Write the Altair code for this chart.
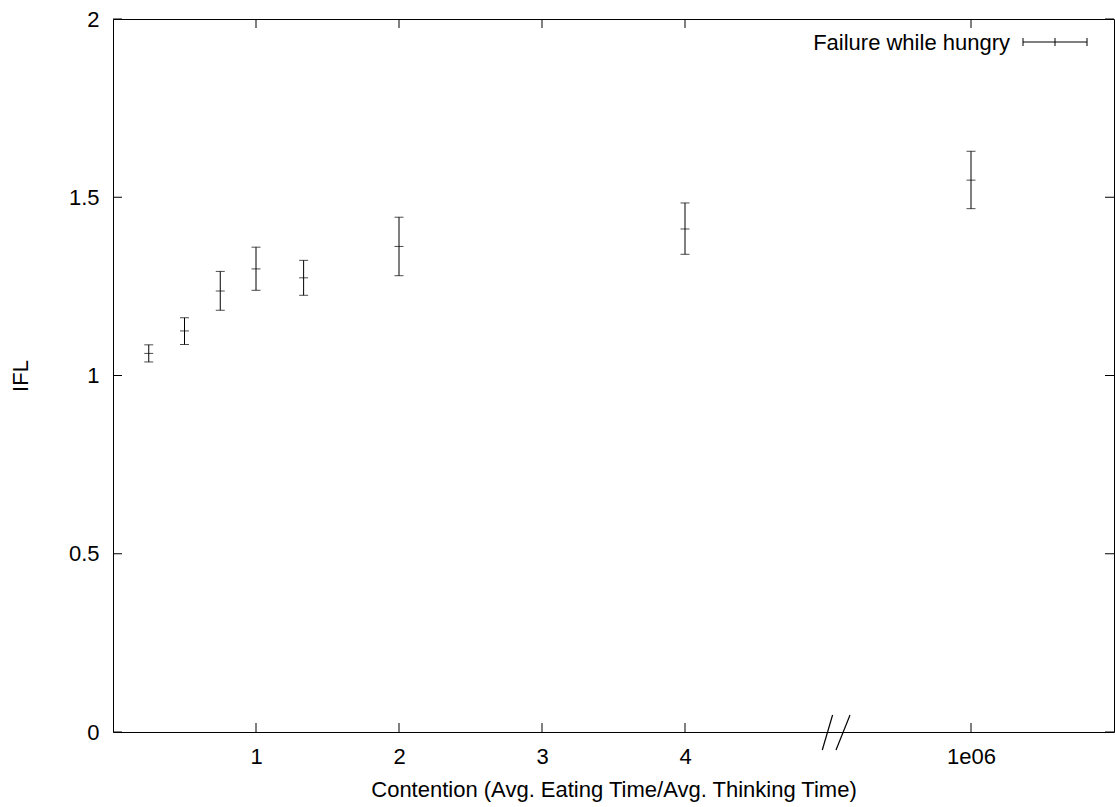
import altair as alt
import pandas as pd

# ---- data ----
# contention values; the last point (1e06) sits after an axis break at position 6
x_positions = [0.25, 0.5, 0.75, 1.0, 1.333, 2.0, 4.0, 6.0]
ifl_mean = [1.062, 1.125, 1.237, 1.299, 1.274, 1.362, 1.411, 1.548]
ifl_low = [1.038, 1.087, 1.183, 1.239, 1.225, 1.280, 1.340, 1.468]
ifl_high = [1.086, 1.162, 1.292, 1.360, 1.323, 1.444, 1.484, 1.629]

x_tick_values = [1, 2, 3, 4, 6]
x_tick_labels = ["1", "2", "3", "4", "1e06"]
y_tick_values = [0, 0.5, 1, 1.5, 2]
series_label = "Failure while hungry"
x_title = "Contention (Avg. Eating Time/Avg. Thinking Time)"
y_title = "IFL"

# axis break marks (two slashes near x = 5)
break_x1 = [4.96, 5.056]
break_x2 = [5.032, 5.154]

W, H = 1001, 713
FONT = "Liberation Sans"
FS = 22
TICK = 9

df = pd.DataFrame({"x": x_positions, "y": ifl_mean, "lo": ifl_low, "hi": ifl_high})

xscale = alt.Scale(domain=[0, 7], nice=False, zero=False)
yscale = alt.Scale(domain=[0, 2], nice=False, zero=False)

# map tick value -> label text from the list above
pairs = " : ".join(
    f"datum.value == {v} ? '{l}'" for v, l in zip(x_tick_values, x_tick_labels))
label_expr = pairs + " : ''"

base = alt.Chart(df)

axes_layer = base.mark_point(opacity=0).encode(
    x=alt.X("x:Q", scale=xscale, title=x_title,
            axis=alt.Axis(values=x_tick_values, labelExpr=label_expr, ticks=False,
                          domain=False, grid=False, labelPadding=14, titlePadding=12,
                          labelFontSize=FS, titleFontSize=FS, labelFont=FONT,
                          titleFont=FONT, titleFontWeight="normal", labelColor="black",
                          titleColor="black")),
    y=alt.Y("y:Q", scale=yscale, title=y_title,
            axis=alt.Axis(values=y_tick_values, format="~g", ticks=False, domain=False,
                          grid=False, labelPadding=14, titlePadding=36,
                          labelFontSize=FS, titleFontSize=FS, labelFont=FONT,
                          titleFont=FONT, titleFontWeight="normal", labelColor="black",
                          titleColor="black")),
)

bars = base.mark_rule(color="black", strokeWidth=1).encode(
    x=alt.X("x:Q", scale=xscale), y=alt.Y("lo:Q", scale=yscale), y2="hi:Q")
caps_lo = base.mark_tick(color="black", orient="horizontal", size=9, thickness=1).encode(
    x=alt.X("x:Q", scale=xscale), y=alt.Y("lo:Q", scale=yscale))
caps_hi = base.mark_tick(color="black", orient="horizontal", size=9, thickness=1).encode(
    x=alt.X("x:Q", scale=xscale), y=alt.Y("hi:Q", scale=yscale))
centers = base.mark_tick(color="black", orient="horizontal", size=9, thickness=1).encode(
    x=alt.X("x:Q", scale=xscale), y=alt.Y("y:Q", scale=yscale))

# inward ticks on all four sides
xt = pd.DataFrame({"v": x_tick_values})
yt = pd.DataFrame({"v": y_tick_values})
xt_bottom = alt.Chart(xt).mark_rule(color="black").encode(
    x=alt.X("v:Q", scale=xscale), y=alt.value(H), y2=alt.value(H - TICK))
xt_top = alt.Chart(xt).mark_rule(color="black").encode(
    x=alt.X("v:Q", scale=xscale), y=alt.value(0), y2=alt.value(TICK))
yt_left = alt.Chart(yt).mark_rule(color="black").encode(
    y=alt.Y("v:Q", scale=yscale), x=alt.value(0), x2=alt.value(TICK))
yt_right = alt.Chart(yt).mark_rule(color="black").encode(
    y=alt.Y("v:Q", scale=yscale), x=alt.value(W), x2=alt.value(W - TICK))

brk = pd.DataFrame({"a": break_x1, "b": break_x2})
breaks = alt.Chart(brk).mark_rule(color="black", strokeWidth=1.2).encode(
    x=alt.X("a:Q", scale=xscale), x2="b:Q", y=alt.value(H + 18), y2=alt.value(H - 17))

# key (legend) in the top-right corner
key_df = pd.DataFrame({"label": [series_label]})
key_text = alt.Chart(key_df).mark_text(
    align="right", baseline="middle", font=FONT, fontSize=FS, color="black").encode(
    text="label:N", x=alt.value(897), y=alt.value(24))
key_line = alt.Chart(key_df).mark_rule(color="black").encode(
    x=alt.value(910), x2=alt.value(974), y=alt.value(23))
key_cap1 = alt.Chart(key_df).mark_rule(color="black").encode(
    x=alt.value(910), y=alt.value(19), y2=alt.value(27))
key_cap2 = alt.Chart(key_df).mark_rule(color="black").encode(
    x=alt.value(974), y=alt.value(19), y2=alt.value(27))
key_mid = alt.Chart(key_df).mark_rule(color="black").encode(
    x=alt.value(942), y=alt.value(19), y2=alt.value(27))

chart = alt.layer(
    axes_layer, bars, caps_lo, caps_hi, centers,
    xt_bottom, xt_top, yt_left, yt_right, breaks,
    key_text, key_line, key_cap1, key_cap2, key_mid,
).properties(
    width=W, height=H,
    autosize=alt.AutoSizeParams(type="none"),
    padding={"left": 113, "top": 19, "right": 1, "bottom": 75},
    background="white",
).configure_view(stroke="black", strokeWidth=1)

chart.save("out.html", embed_options={"renderer": "svg", "actions": False})
